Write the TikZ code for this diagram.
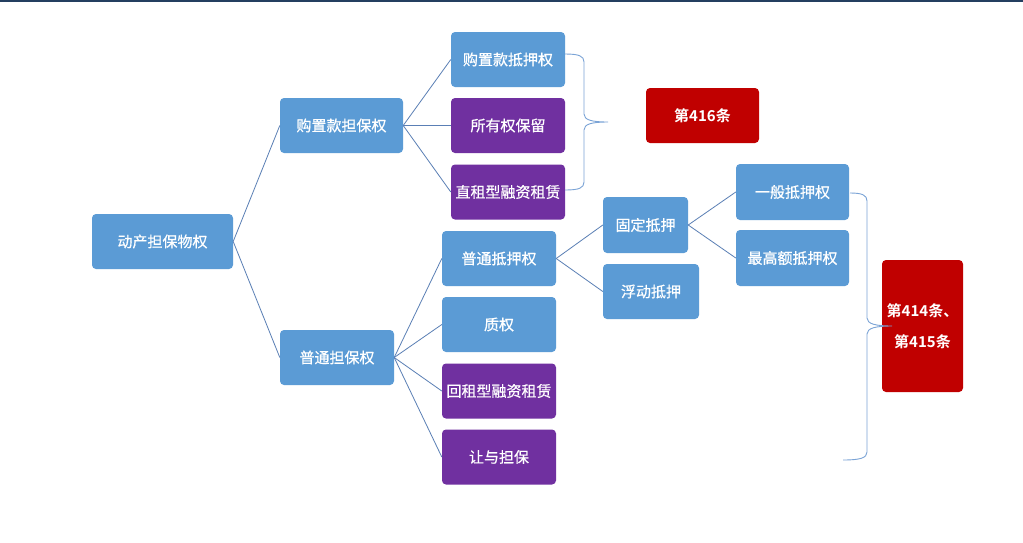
\documentclass[tikz,border=0pt]{standalone}
\usepackage{fontspec}
\newfontfamily\cjk{Noto Sans CJK SC}[FakeBold=0.7]
\newfontfamily\cjkbold{Noto Sans CJK SC Bold}

\definecolor{boxblue}{HTML}{5B9BD5}
\definecolor{boxpurple}{HTML}{7030A0}
\definecolor{boxred}{HTML}{C00000}
\definecolor{linkblue}{HTML}{5A7FB5}
\definecolor{bracecol}{HTML}{7AA3D6}
\definecolor{topbar}{HTML}{243F60}

\begin{document}
\begin{tikzpicture}[x=1pt, y=-1pt,
    font=\cjk\fontsize{15}{18}\selectfont,
    box/.style={rounded corners=4pt, text=white, inner sep=0pt, minimum width=114, minimum height=55},
    bluebox/.style={box, fill=boxblue},
    purplebox/.style={box, fill=boxpurple},
    redbox/.style={box, fill=boxred, font=\cjkbold\fontsize{15}{31}\selectfont},
    link/.style={draw=linkblue, line width=0.8pt},
    bracket/.style={draw=bracecol, line width=0.9pt}]
    \useasboundingbox (0,0) rectangle (1023,542);
    \fill[white] (0,0) rectangle (1023,542);

    % Top bar
    \fill[topbar] (0,0) rectangle (1023,2);

    % Root and the two main branches
    \node[bluebox, minimum width=141] (root) at (162.5,241.5) {动产担保物权};
    \node[bluebox, minimum width=123] (gzk) at (341.5,125.5) {购置款担保权};
    \node[bluebox] (pt) at (337,357.5) {普通担保权};

    % Children of the purchase money branch
    \node[bluebox] (gzkdy) at (508,59.5) {购置款抵押权};
    \node[purplebox] (syq) at (508,125.5) {所有权保留};
    \node[purplebox] (zz) at (508,192) {直租型融资租赁};

    % Children of the ordinary branch
    \node[bluebox] (ptdy) at (499,258.5) {普通抵押权};
    \node[bluebox] (zq) at (499,324.5) {质权};
    \node[purplebox] (hz) at (499,391) {回租型融资租赁};
    \node[purplebox] (rydb) at (499,457) {让与担保};

    % Mortgage types
    \node[bluebox, minimum width=85, minimum height=56] (gddy) at (645.5,225) {固定抵押};
    \node[bluebox, minimum width=96] (fddy) at (651,291.5) {浮动抵押};
    \node[bluebox, minimum width=113, minimum height=56] (ybdy) at (792.5,192) {一般抵押权};
    \node[bluebox, minimum width=113, minimum height=56] (zgedy) at (792.5,258) {最高额抵押权};

    % Articles
    \node[redbox, minimum width=113] (art416) at (702.5,115.5) {第416条};
    \node[redbox, minimum width=81, minimum height=132, align=center] (art414) at (922.5,326) {第414条、\\第415条};

    % Connectors
    \draw[link] (root.east) -- (gzk.west);
    \draw[link] (root.east) -- (pt.west);
    \foreach \c in {gzkdy, syq, zz} {
        \draw[link] (gzk.east) -- (\c.west);
    }
    \foreach \c in {ptdy, zq, hz, rydb} {
        \draw[link] (pt.east) -- (\c.west);
    }
    \draw[link] (ptdy.east) -- (gddy.west);
    \draw[link] (ptdy.east) -- (fddy.west);
    \draw[link] (gddy.east) -- (ybdy.west);
    \draw[link] (gddy.east) -- (zgedy.west);

    % Braces
    \coordinate (TopBraceStart) at (565,54);
    \coordinate (TopBraceTip) at (608,122);
    \coordinate (TopBraceEnd) at (565,190);
    \draw[bracket] (TopBraceStart) .. controls (579,54) and (584,56) .. (584,62) -- (584,114)
        .. controls (584,120) and (592,122) .. (TopBraceTip)
        .. controls (592,122) and (584,124) .. (584,130) -- (584,182)
        .. controls (584,188) and (579,190) .. (TopBraceEnd);

    \coordinate (RightBraceStart) at (850,193);
    \coordinate (RightBraceTip) at (892,326);
    \coordinate (RightBraceEnd) at (843,460);
    \draw[bracket] (RightBraceStart) .. controls (862,193) and (867,195) .. (867,201) -- (867,318)
        .. controls (867,324) and (876,326) .. (RightBraceTip)
        .. controls (876,326) and (867,328) .. (867,334) -- (867,452)
        .. controls (867,458) and (860,460) .. (RightBraceEnd);

\end{tikzpicture}
\end{document}
